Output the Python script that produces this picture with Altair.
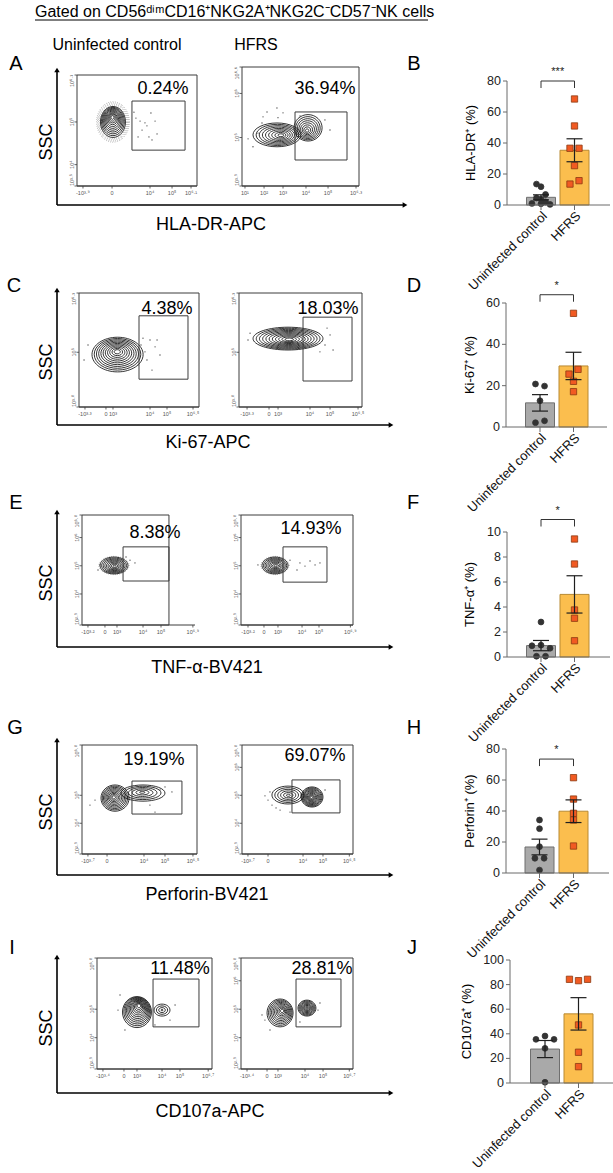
import altair as alt
import pandas as pd

FONT = "Liberation Sans"
W, H = 613, 1173

# ---------------------------------------------------------------- labels
GROUPS = ["Uninfected control", "HFRS"]
MARKERS = ["HLA-DR-APC", "Ki-67-APC", "TNF-α-BV421", "Perforin-BV421", "CD107a-APC"]
Y_TITLES = ["HLA-DR⁺ (%)", "Ki-67⁺ (%)", "TNF-α⁺ (%)", "Perforin⁺ (%)", "CD107a⁺ (%)"]
SIGNIF = ["***", "*", "*", "*", ""]
PCT_UNINF = ["0.24%", "4.38%", "8.38%", "19.19%", "11.48%"]
PCT_HFRS = ["36.94%", "18.03%", "14.93%", "69.07%", "28.81%"]
LETTERS = [("A", "B"), ("C", "D"), ("E", "F"), ("G", "H"), ("I", "J")]

# ---------------------------------------------------------------- bar data (% positive, one value per donor)
HLA_CTRL = [13.5, 11.8, 6.8, 4.5, 3.8, 2.0, 1.0, 0.8, 0.4]
HLA_HFRS = [68.4, 51.0, 36.6, 36.6, 25.4, 13.5, 15.7]
KI_CTRL = [20.8, 19.8, 12.7, 2.1, 3.0]
KI_HFRS = [55.0, 25.6, 27.9, 22.1, 17.1]
TNF_CTRL = [2.8, 0.9, 0.95, 0.7, 0.06, 0.06]
TNF_HFRS = [9.44, 7.44, 3.76, 3.1, 1.3]
PRF_CTRL = [34.2, 28.6, 17.0, 9.5, 9.5, 1.9]
PRF_HFRS = [61.5, 47.7, 38.5, 34.2, 17.4]
CD107_CTRL = [35.5, 38.2, 35.5, 28.2, 0.6]
CD107_HFRS = [84.3, 83.2, 84.3, 47.2, 25.0, 13.3]

# side-by-side slots for tied points in each scatter column
HLA_CTRL_SLOT = [-1, 0, 1, -1, 0, 1, -2, 0, 2]
HLA_HFRS_SLOT = [0, 0, -1, 1, 0, -1, 1]
KI_CTRL_SLOT = [-1, 1, 0, -1, 1]
KI_HFRS_SLOT = [0, -1, 1, 0, 0]
TNF_CTRL_SLOT = [0, -2, 0, 2, -1, 1]
TNF_HFRS_SLOT = [0, 0, 0, 0, 0]
PRF_CTRL_SLOT = [0, 0, 0, -1, 1, 0]
PRF_HFRS_SLOT = [0, 0, 0, 0, 0]
CD107_CTRL_SLOT = [-2, 0, 2, 0, 0]
CD107_HFRS_SLOT = [-2, 0, 2, 0, 0, 0]

BAR_DATA = [
    (HLA_CTRL, HLA_HFRS, HLA_CTRL_SLOT, HLA_HFRS_SLOT),
    (KI_CTRL, KI_HFRS, KI_CTRL_SLOT, KI_HFRS_SLOT),
    (TNF_CTRL, TNF_HFRS, TNF_CTRL_SLOT, TNF_HFRS_SLOT),
    (PRF_CTRL, PRF_HFRS, PRF_CTRL_SLOT, PRF_HFRS_SLOT),
    (CD107_CTRL, CD107_HFRS, CD107_CTRL_SLOT, CD107_HFRS_SLOT),
]
Y_MAX = [80, 60, 10, 80, 100]
Y_TICKS = [[0, 20, 40, 60, 80], [0, 20, 40, 60], [0, 2, 4, 6, 8, 10],
           [0, 20, 40, 60, 80], [0, 20, 40, 60, 80, 100]]
BRACKET = [80, 64, 11, 73.5, None]

# ---------------------------------------------------------------- flow data
# x: display channel (0-1024), y: log10 SSC
# x ticks: (exponent label, channel); pops: contour populations; events: sparse events
FLOW = {
    "A1": dict(ydom=[3.5, 6.1], yticks=[3.5, 4, 5, 6.1],
               xticks=[("-3.9", 51), ("0", 299), ("4", 623), ("5", 811), ("6.1", 973)],
               gate=[469, 922, 4.34, 5.49],
               pops=[dict(cx=307, cy=5.0, rx=107, ry=0.363, n=11, core=(302, 5.12), halo=4)],
               events=[(503, 5.09), (538, 5.02), (580, 4.98), (631, 5.21), (666, 5.02), (597, 4.91),
                       (521, 4.65), (614, 4.65), (640, 4.58), (555, 4.81), (486, 5.23), (683, 4.72)]),
    "A2": dict(ydom=[3.9, 6.6], yticks=[3.9, 5, 6, 6.6],
               xticks=[("1", 26), ("2", 193), ("3", 359), ("4", 560), ("5", 753), ("6.3", 998)],
               gate=[464, 919, 4.49, 5.58],
               pops=[dict(cx=306, cy=5.06, rx=210, ry=0.27, n=9, core=(345, 5.05), halo=0),
                     dict(cx=578, cy=5.22, rx=123, ry=0.30, n=8, core=(569, 5.15), halo=0)],
               events=[(219, 5.58), (306, 5.67), (184, 5.47), (359, 5.56), (140, 5.10), (53, 4.97),
                       (96, 4.79), (315, 5.45), (726, 5.40), (770, 5.17), (175, 5.33), (508, 5.49)]),
    "C1": dict(ydom=[3.8, 6.3], yticks=[3.8, 5, 6.3],
               xticks=[("-3.3", 51), ("0", 230), ("3", 290), ("4", 606), ("5", 751), ("6.5", 973)],
               gate=[512, 930, 4.41, 5.80],
               pops=[dict(cx=329, cy=4.95, rx=218, ry=0.38, n=11, core=(326, 5.02), halo=0)],
               events=[(529, 5.16), (563, 5.01), (606, 5.27), (580, 4.83), (649, 5.12), (691, 4.94),
                       (503, 4.72), (623, 4.61), (546, 5.31), (43, 4.83), (77, 5.16), (666, 5.27)]),
    "C2": dict(ydom=[3.8, 6.3], yticks=[3.8, 5, 6.3],
               xticks=[("-3.3", 67), ("0", 250), ("3", 325), ("4", 591), ("5", 758), ("6.5", 991)],
               gate=[533, 941, 4.37, 5.77],
               pops=[dict(cx=408, cy=5.30, rx=291, ry=0.25, n=11, core=(420, 5.28), halo=0)],
               events=[(758, 5.38), (716, 5.16), (783, 5.05), (75, 5.27), (92, 5.42), (733, 5.53),
                       (674, 5.01)]),
    "E1": dict(ydom=[2.9, 6.8], yticks=[2.9, 4, 5, 6, 6.8],
               xticks=[("-3.2", 54), ("0", 208), ("3", 317), ("4", 553), ("5", 716), ("6.9", 1005)],
               gate=[372, 788, 4.46, 5.67],
               pops=[dict(cx=290, cy=5.01, rx=127, ry=0.30, n=9, core=(296, 4.98), halo=1)],
               events=[(435, 5.20), (480, 5.10), (163, 5.03), (399, 5.31), (145, 4.85)]),
    "E2": dict(ydom=[2.9, 6.8], yticks=[2.9, 4, 5, 6, 6.8],
               xticks=[("-3.2", 64), ("0", 210), ("3", 338), ("4", 558), ("5", 713), ("6.9", 1000)],
               gate=[384, 786, 4.42, 5.67],
               pops=[dict(cx=311, cy=5.01, rx=119, ry=0.30, n=9, core=(317, 5.0), halo=1)],
               events=[(539, 5.10), (585, 4.99), (631, 5.17), (677, 5.03), (512, 4.85), (448, 5.20),
                       (155, 5.03), (722, 5.10)]),
    "G1": dict(ydom=[2.9, 6.8], yticks=[2.9, 4, 5, 6.8],
               xticks=[("-3.7", 53), ("0", 223), ("4", 552), ("5", 739), ("6.5", 988)],
               gate=[445, 890, 4.33, 5.51],
               pops=[dict(cx=294, cy=4.90, rx=125, ry=0.47, n=10, core=(282, 4.93), halo=0),
                     dict(cx=543, cy=5.08, rx=196, ry=0.29, n=6, core=(536, 5.11), halo=0)],
               events=[(695, 5.19), (739, 5.30), (801, 5.12), (116, 4.83), (71, 4.65), (605, 4.65),
                       (650, 4.40)]),
    "G2": dict(ydom=[2.9, 6.8], yticks=[2.9, 4, 5, 6, 6.8],
               xticks=[("-3.7", 55), ("0", 240), ("4", 563), ("5", 747), ("6.5", 990)],
               gate=[461, 904, 4.37, 5.55],
               pops=[dict(cx=424, cy=5.01, rx=148, ry=0.32, n=6, core=(428, 5.0), halo=0),
                     dict(cx=646, cy=4.94, rx=101, ry=0.36, n=11, core=(640, 4.92), halo=0)],
               events=[(240, 4.83), (277, 4.65), (314, 4.55), (258, 5.12), (351, 4.47), (212, 4.98),
                       (443, 4.40), (766, 5.19)]),
    "I1": dict(ydom=[2.9, 6.8], yticks=[2.9, 4, 5, 6.8],
               xticks=[("-3.4", 53), ("0", 240), ("3", 356), ("4", 579), ("5", 739), ("6.7", 990)],
               gate=[499, 908, 4.38, 6.06],
               pops=[dict(cx=356, cy=4.90, rx=129, ry=0.545, n=12, core=(375, 5.15), halo=0),
                     dict(cx=579, cy=4.97, rx=71, ry=0.21, n=4, core=(579, 4.97), halo=0)],
               events=[(187, 4.97), (249, 4.27), (650, 4.62), (516, 4.45), (205, 5.50), (695, 5.15)]),
    "I2": dict(ydom=[2.9, 6.8], yticks=[2.9, 4, 5, 6, 6.8],
               xticks=[("-3.4", 55), ("0", 238), ("3", 338), ("4", 585), ("5", 750), ("6.7", 990)],
               gate=[503, 914, 4.38, 6.06],
               pops=[dict(cx=357, cy=4.87, rx=119, ry=0.49, n=10, core=(378, 4.95), halo=0),
                     dict(cx=603, cy=5.04, rx=82, ry=0.28, n=9, core=(603, 5.04), halo=0)],
               events=[(192, 4.80), (219, 4.62), (704, 4.97), (722, 5.22), (265, 4.27), (539, 4.55)]),
}

# ---------------------------------------------------------------- layout (pixels)
ROWS = ["A", "C", "E", "G", "I"]
BOX = {  # x0, x1, top, bottom of each dot-plot frame
    "A1": (77, 197, 75, 186), "A2": (242, 359, 67, 186),
    "C1": (79, 199, 293, 407), "C2": (239, 362, 293, 407),
    "E1": (82, 195, 515, 625), "E2": (241, 353, 515, 625),
    "G1": (82, 197, 745, 854), "G2": (242, 353, 745, 854),
    "I1": (97, 212, 958, 1069), "I2": (241, 353, 958, 1069),
}
FRAME_RIGHT = {"E1": 788}
PCT_POS = {"A1": (163, 89), "A2": (325, 89), "C1": (167, 309), "C2": (328, 309),
           "E1": (155, 533), "E2": (311, 529), "G1": (154, 760), "G2": (315, 756),
           "I1": (180, 969), "I2": (322, 969)}
LETTER_POS = [((16, 64), (414, 64)), ((14, 286), (414, 286)), ((16, 503), (413, 503)),
              ((15, 728), (414, 728)), ((12, 948), (412, 948))]
ARROWS = [(68, 205, 407), (288, 425, 393), (510, 647, 393), (738, 875, 393), (955, 1093, 393)]
SSC_Y = [142, 362, 583, 812, 1028]
MARKER_POS = [(211, 225), (208, 443), (207, 668), (207, 895), (210, 1112)]
BAR_LAYOUT = [
    dict(xa=507, y0=205, ytop=81, c0=536, c1=579.5, xlen=103, tx=471),
    dict(xa=506, y0=427, ytop=303, c0=535, c1=578.5, xlen=101, tx=470),
    dict(xa=507, y0=657, ytop=532, c0=536, c1=579.5, xlen=103, tx=470),
    dict(xa=506, y0=873, ytop=749, c0=534.5, c1=578.5, xlen=103, tx=470),
    dict(xa=510, y0=1083, ytop=960, c0=540, c1=583.5, xlen=103, tx=467),
]

FRAME = "#3c3c3c"
RING = "#111111"
TICKTXT = "#555555"
AXC = "#6a6a6a"
GRAY, GRAY_EDGE = "#a9a9a9", "#6f6f6f"
ORANGE, ORANGE_EDGE = "#fbbe4e", "#b98a32"
DOT_CTRL = "#333333"
SQ_FILL, SQ_EDGE = "#f15a22", "#8c3a12"
SLOT = 0.135
KAPPA = 0.5523  # cubic Bezier handle length for a quarter ellipse

ONE = pd.DataFrame({"k": [0]})


def sup(s):
    return s.translate(str.maketrans("0123456789.-+", "⁰¹²³⁴⁵⁶⁷⁸⁹·⁻⁺"))


def xlab(s):
    if s == "0":
        return "0"
    if s.startswith("-"):
        return "-10" + sup(s[1:])
    return "10" + sup(s)


def ylab(v):
    return "10" + sup(f"{v:g}")


def ellipse_path(a, b):
    """Closed ellipse outline (half axes a, b in pixels) centred on the symbol origin."""
    ka, kb = KAPPA * a, KAPPA * b
    f = lambda v: f"{v:.3f}"
    return (f"M {f(a)} 0 C {f(a)} {f(kb)} {f(ka)} {f(b)} 0 {f(b)} "
            f"C {f(-ka)} {f(b)} {f(-a)} {f(kb)} {f(-a)} 0 "
            f"C {f(-a)} {f(-kb)} {f(-ka)} {f(-b)} 0 {f(-b)} "
            f"C {f(ka)} {f(-b)} {f(a)} {f(-kb)} {f(a)} 0 Z")


def text_at(txt, x, y, size, angle=0, align="center", baseline="middle", color="#000000"):
    return alt.Chart(ONE).mark_text(
        text=txt, fontSize=size, font=FONT, angle=angle, align=align,
        baseline=baseline, color=color
    ).encode(x=alt.value(x), y=alt.value(y))


def rule_at(x1, x2, y1, y2, width=1.0, color="#000000"):
    return alt.Chart(ONE).mark_rule(color=color, strokeWidth=width).encode(
        x=alt.value(x1), x2=alt.value(x2), y=alt.value(y1), y2=alt.value(y2))


def flow_panel(key, pct):
    spec = FLOW[key]
    x0, x1, yt, yb = BOX[key]
    y_lo, y_hi = spec["ydom"]
    sx = alt.Scale(domain=[0, 1024], range=[x0, x1], nice=False, zero=False)
    sy = alt.Scale(domain=[y_lo, y_hi], range=[yb, yt], nice=False, zero=False)

    def ex(f):
        return alt.X(f"{f}:Q", scale=sx, axis=None)

    def ey(f):
        return alt.Y(f"{f}:Q", scale=sy, axis=None)

    ppx = (x1 - x0) / 1024
    ppy = (yb - yt) / (y_hi - y_lo)
    layers = []

    fr = pd.DataFrame({"a": [0], "b": [FRAME_RIGHT.get(key, 1024)], "e": [1024],
                       "lo": [y_lo], "hi": [y_hi]})
    layers.append(alt.Chart(fr).mark_rect(fillOpacity=0, stroke=FRAME, strokeWidth=1).encode(
        x=ex("a"), x2="b", y=ey("lo"), y2="hi"))
    layers.append(alt.Chart(fr).mark_rule(color=FRAME, strokeWidth=1).encode(
        x=ex("a"), x2="e", y=ey("lo")))

    # contour rings of each population, drawn from the outer level inwards
    rings, halo = [], []
    for p in spec["pops"]:
        rx, ry = p["rx"] * ppx, p["ry"] * ppy
        kx, ky = p["core"]
        n = p["n"]
        for k in range(n):
            s = 1 - k * 0.88 / (n - 1)
            rings.append({"x": kx + s * (p["cx"] - kx), "y": ky + s * (p["cy"] - ky),
                          "shape": ellipse_path(rx * s, ry * s)})
        for k in range(p["halo"]):
            s = 1.08 + 0.075 * k
            halo.append({"x": p["cx"], "y": p["cy"], "shape": ellipse_path(rx * s, ry * s)})
    if halo:
        layers.append(alt.Chart(pd.DataFrame(halo)).mark_point(
            filled=False, color="#333333", strokeWidth=0.9, strokeDash=[0.5, 1.7], opacity=0.65, size=4
        ).encode(x=ex("x"), y=ey("y"), shape=alt.Shape("shape:N", scale=None)))
    layers.append(alt.Chart(pd.DataFrame(rings)).mark_point(
        filled=False, color=RING, strokeWidth=0.85, opacity=1, size=4
    ).encode(x=ex("x"), y=ey("y"), shape=alt.Shape("shape:N", scale=None)))

    ev = pd.DataFrame(spec["events"], columns=["x", "y"])
    layers.append(alt.Chart(ev).mark_circle(size=1.8, color="#333333", opacity=0.9).encode(
        x=ex("x"), y=ey("y")))

    g = spec["gate"]
    gd = pd.DataFrame({"gx1": [g[0]], "gx2": [g[1]], "gy1": [g[2]], "gy2": [g[3]]})
    layers.append(alt.Chart(gd).mark_rect(fillOpacity=0, stroke=FRAME, strokeWidth=1).encode(
        x=ex("gx1"), x2="gx2", y=ey("gy1"), y2="gy2"))

    # axis ticks and labels
    xt = pd.DataFrame({"v": [c for _, c in spec["xticks"]],
                       "lab": [xlab(s) for s, _ in spec["xticks"]], "b": y_lo})
    layers.append(alt.Chart(xt).mark_rule(color=FRAME, strokeWidth=0.8, y2Offset=2.5).encode(
        x=ex("v"), y=ey("b"), y2="b"))
    layers.append(alt.Chart(xt).mark_text(fontSize=5.5, font=FONT, color=TICKTXT, yOffset=7).encode(
        x=ex("v"), y=ey("b"), text="lab:N"))

    yv = spec["yticks"]
    ytd = pd.DataFrame({"v": yv, "lab": [ylab(v) for v in yv], "l": 0})
    layers.append(alt.Chart(ytd).mark_rule(color=FRAME, strokeWidth=0.8, xOffset=-2.5).encode(
        x=ex("l"), x2="l", y=ey("v")))
    for sub, align in ((ytd.iloc[:1], "left"), (ytd.iloc[1:-1], "center"), (ytd.iloc[-1:], "right")):
        layers.append(alt.Chart(sub).mark_text(
            fontSize=5.5, font=FONT, color=TICKTXT, angle=270, align=align,
            baseline="middle", xOffset=-5.5
        ).encode(x=ex("l"), y=ey("v"), text="lab:N"))

    px, py = PCT_POS[key]
    layers.append(text_at(pct, px, py, 18))
    return alt.layer(*layers)


def bar_panel(i):
    ctrl, hfrs, sl_c, sl_h = BAR_DATA[i]
    lay = BAR_LAYOUT[i]
    ymax = Y_MAX[i]
    rows = [{"g": 0, "v": v, "slot": s} for v, s in zip(ctrl, sl_c)]
    rows += [{"g": 1, "v": v, "slot": s} for v, s in zip(hfrs, sl_h)]
    df = pd.DataFrame(rows)
    sx = alt.Scale(domain=[0, 1], range=[lay["c0"], lay["c1"]], nice=False, zero=False)
    sy = alt.Scale(domain=[0, ymax], range=[lay["y0"], lay["ytop"]], nice=False, zero=False)

    def ex(f):
        return alt.X(f"{f}:Q", scale=sx, axis=None)

    def ey(f):
        return alt.Y(f"{f}:Q", scale=sy, axis=None)

    base = alt.Chart(df)
    agg = base.transform_aggregate(
        m="mean(v)", sd="stdev(v)", n="count()", groupby=["g"]
    ).transform_calculate(
        se="datum.sd / sqrt(datum.n)", lo="datum.m - datum.se", hi="datum.m + datum.se", z="0",
        fc=f"datum.g == 0 ? '{GRAY}' : '{ORANGE}'",
        sc=f"datum.g == 0 ? '{GRAY_EDGE}' : '{ORANGE_EDGE}'",
    )
    layers = []
    layers.append(agg.mark_bar(size=29, orient="vertical", strokeWidth=1).encode(
        x=ex("g"), y=ey("m"), y2="z",
        fill=alt.Fill("fc:N", scale=None), stroke=alt.Stroke("sc:N", scale=None)))

    pts = base.transform_calculate(
        px=f"datum.g + datum.slot * {SLOT}",
        shp="datum.g == 0 ? 'circle' : 'square'",
        sz="datum.g == 0 ? 34 : 40",
        fc=f"datum.g == 0 ? '{DOT_CTRL}' : '{SQ_FILL}'",
        sc=f"datum.g == 0 ? '{DOT_CTRL}' : '{SQ_EDGE}'",
    )
    layers.append(pts.mark_point(filled=True, opacity=1, strokeWidth=0.8).encode(
        x=ex("px"), y=ey("v"), shape=alt.Shape("shp:N", scale=None),
        size=alt.Size("sz:Q", scale=None),
        fill=alt.Fill("fc:N", scale=None), stroke=alt.Stroke("sc:N", scale=None)))

    layers.append(agg.mark_rule(color="#1e1e1e", strokeWidth=1.2).encode(
        x=ex("g"), y=ey("lo"), y2="hi"))
    for f in ("lo", "hi"):
        layers.append(agg.mark_rule(color="#1e1e1e", strokeWidth=1.2, xOffset=-8, x2Offset=8).encode(
            x=ex("g"), x2="g", y=ey(f)))

    # axes
    xa = lay["xa"]
    ax = pd.DataFrame({"z": [0], "t": [ymax]})
    layers.append(alt.Chart(ax).mark_rule(color=AXC, strokeWidth=1).encode(
        x=alt.value(xa), y=ey("z"), y2="t"))
    layers.append(alt.Chart(ax).mark_rule(color=AXC, strokeWidth=1).encode(
        x=alt.value(xa), x2=alt.value(xa + lay["xlen"]), y=ey("z")))
    tk = pd.DataFrame({"v": Y_TICKS[i]})
    layers.append(alt.Chart(tk).mark_rule(color=AXC, strokeWidth=1).encode(
        x=alt.value(xa - 4), x2=alt.value(xa), y=ey("v")))
    layers.append(alt.Chart(tk).mark_text(fontSize=12.5, font=FONT, color="#222222", align="right",
                                          baseline="middle").encode(
        x=alt.value(xa - 6), y=ey("v"), text="v:Q"))
    gx = pd.DataFrame({"g": [0, 1], "lab": GROUPS, "z": 0})
    layers.append(alt.Chart(gx).mark_rule(color=AXC, strokeWidth=1, y2Offset=5).encode(
        x=ex("g"), y=ey("z"), y2="z"))
    layers.append(alt.Chart(gx).mark_text(fontSize=13, font=FONT, color="#111111", angle=315,
                                          align="right", baseline="middle",
                                          xOffset=4, yOffset=9).encode(
        x=ex("g"), y=ey("z"), text="lab:N"))
    layers.append(text_at(Y_TITLES[i], lay["tx"], (lay["y0"] + lay["ytop"]) / 2, 13, angle=270))

    lv = BRACKET[i]
    if lv is not None:
        br = pd.DataFrame({"a": [0], "b": [1], "lv": [lv], "mid": [0.5], "s": [SIGNIF[i]]})
        layers.append(alt.Chart(br).mark_rule(color="#333333", strokeWidth=1).encode(
            x=ex("a"), x2="b", y=ey("lv")))
        legs = pd.DataFrame({"g": [0, 1], "lv": lv})
        layers.append(alt.Chart(legs).mark_rule(color="#333333", strokeWidth=1, y2Offset=7).encode(
            x=ex("g"), y=ey("lv"), y2="lv"))
        layers.append(alt.Chart(br).mark_text(fontSize=11, font=FONT, color="#222222",
                                              yOffset=-9).encode(
            x=ex("mid"), y=ey("lv"), text="s:N"))
    return alt.layer(*layers)


panels = []
for r, row in enumerate(ROWS):
    panels.append(flow_panel(row + "1", PCT_UNINF[r]))
    panels.append(flow_panel(row + "2", PCT_HFRS[r]))
    panels.append(bar_panel(r))

deco = []
# heading
deco.append(text_at("Gated on CD56ᵈⁱᵐCD16⁺NKG2A⁺NKG2C⁻CD57⁻NK cells", 35, 12, 16, align="left"))
deco.append(rule_at(35, 428, 20, 20, width=1.0))
deco.append(text_at(GROUPS[0], 117, 45, 16))
deco.append(text_at(GROUPS[1], 256, 45, 16))
for r in range(5):
    (lx, ly), (rx_, ry_) = LETTER_POS[r]
    deco.append(text_at(LETTERS[r][0], lx, ly, 20))
    deco.append(text_at(LETTERS[r][1], rx_, ry_, 20))
    top, base_y, right = ARROWS[r]
    deco.append(rule_at(57, 57, top + 3, base_y, width=1.6))
    deco.append(rule_at(57, right - 3, base_y, base_y, width=1.6))
    deco.append(alt.Chart(ONE).mark_point(shape="triangle-up", filled=True, size=30, color="#000000",
                                          opacity=1).encode(x=alt.value(57), y=alt.value(top + 2)))
    deco.append(alt.Chart(ONE).mark_point(shape="triangle-right", filled=True, size=30, color="#000000",
                                          opacity=1).encode(x=alt.value(right - 2), y=alt.value(base_y)))
    deco.append(text_at("SSC", 47, SSC_Y[r], 18, angle=270))
    mx, my = MARKER_POS[r]
    deco.append(text_at(MARKERS[r], mx, my, 18))

chart = alt.layer(*panels, *deco).resolve_scale(
    x="independent", y="independent"
).properties(
    width=W, height=H, padding=0, autosize=alt.AutoSizeParams(type="none")
).configure_view(strokeWidth=0)

chart.save("out.html", embed_options={"renderer": "svg", "actions": False})
